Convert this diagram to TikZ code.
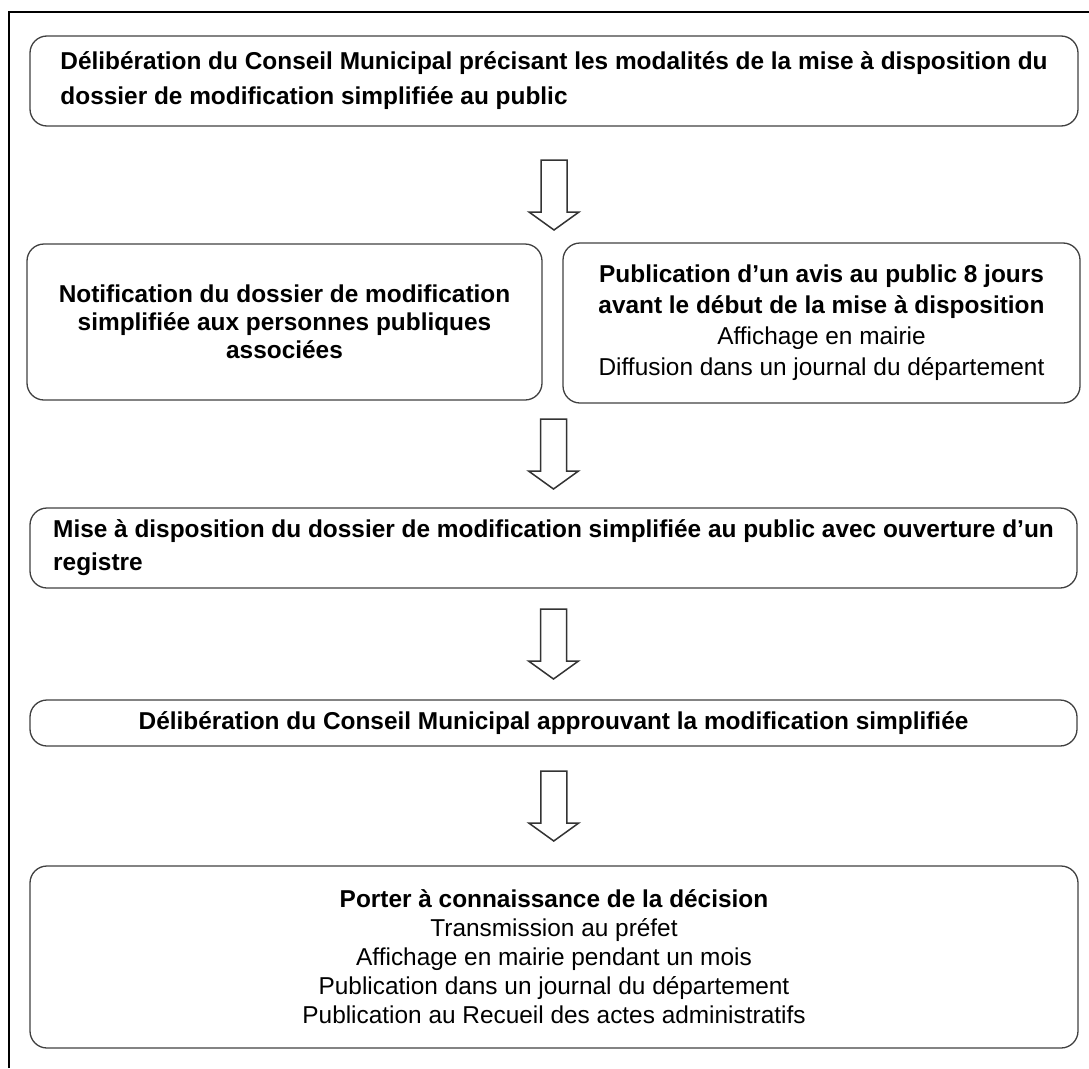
\documentclass[tikz,border=0pt]{standalone}
\usepackage{fontspec}
\setmainfont{Liberation Sans}
\usetikzlibrary{calc}

\tikzset{
  etape/.style={draw=black!75, line width=1.3pt, rounded corners=17pt, inner sep=0pt, align=center},
  fleche/.style={draw=black!80, line width=1.5pt, fill=white, line join=miter},
}

% fleche creuse entre deux points
\newcommand{\flechebloc}[2]{%
  \path ($(#1)!0.5!(#2)$) coordinate (m);
  \draw[fleche] ([shift={(-13pt,35pt)}]m) -- ([shift={(-13pt,-17pt)}]m)
    -- ([shift={(-25pt,-17pt)}]m) -- ([shift={(0pt,-35pt)}]m)
    -- ([shift={(25pt,-17pt)}]m) -- ([shift={(13pt,-17pt)}]m)
    -- ([shift={(13pt,35pt)}]m) -- cycle;}

\begin{document}
\begin{tikzpicture}[x=1pt, y=-1pt]
  \useasboundingbox (0,0) rectangle (1089,1068);
  \draw[line width=2pt] (9,1068) -- (9,12) -- (1089,12);

  \node[etape, minimum width=1048pt, minimum height=90pt, align=left,
    font=\bfseries\fontsize{24.4}{35}\selectfont] (del1) at (554,81)
    {Délibération du Conseil Municipal précisant les modalités de la mise à disposition du\\
     dossier de modification simplifiée au public};

  \node[etape, minimum width=515pt, minimum height=156pt,
    font=\bfseries\fontsize{24.4}{28}\selectfont] (notif) at (284.5,322)
    {Notification du dossier de modification\\simplifiée aux personnes publiques\\associées};
  \node[etape, minimum width=517pt, minimum height=160pt,
    font=\fontsize{24.4}{31}\selectfont] (avis) at (821.5,323)
    {\textbf{Publication d’un avis au public 8 jours}\\
     \textbf{avant le début de la mise à disposition}\\
     Affichage en mairie\\Diffusion dans un journal du département};

  \node[etape, minimum width=1047pt, minimum height=80pt, align=left,
    font=\bfseries\fontsize{24.4}{33}\selectfont] (mise) at (553.5,548)
    {Mise à disposition du dossier de modification simplifiée au public avec ouverture d’un\\
     registre};

  \node[etape, minimum width=1047pt, minimum height=46pt,
    font=\bfseries\fontsize{24.4}{33}\selectfont] (approb) at (553.5,723)
    {Délibération du Conseil Municipal approuvant la modification simplifiée};

  \node[etape, minimum width=1048pt, minimum height=182pt,
    font=\fontsize{24.4}{29}\selectfont] (porter) at (554,957)
    {\textbf{Porter à connaissance de la décision}\\
     Transmission au préfet\\
     Affichage en mairie pendant un mois\\
     Publication dans un journal du département\\
     Publication au Recueil des actes administratifs};

  \flechebloc{[yshift=-20pt]del1.south}{del1.south |- notif.north}
  \flechebloc{mise.north |- notif.south}{mise.north}
  \flechebloc{mise.south}{approb.north}
  \flechebloc{approb.south}{porter.north}
\end{tikzpicture}
\end{document}
